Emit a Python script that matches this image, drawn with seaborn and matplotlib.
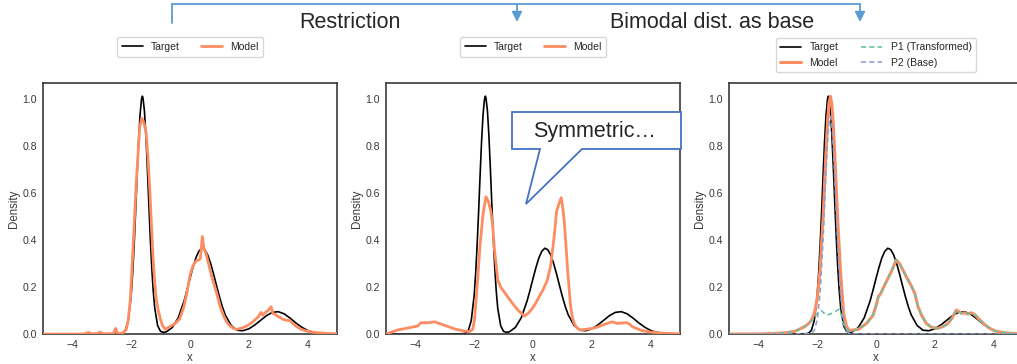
import numpy as np
import pandas as pd
import matplotlib
matplotlib.use("Agg")
import matplotlib.pyplot as plt
from matplotlib.patches import Polygon, FancyArrowPatch
from matplotlib.lines import Line2D
import seaborn as sns

# ---------------- data ----------------
target_x = [-5.0, -3.0, -2.4, -2.3, -2.2, -2.1, -2.0, -1.95, -1.9, -1.85, -1.8, -1.75, -1.7, -1.65,
            -1.62, -1.6, -1.55, -1.5, -1.45, -1.4, -1.35, -1.3, -1.25, -1.2, -1.1, -1.0, -0.9, -0.8,
            -0.6, -0.4, -0.2, -0.1, 0.0, 0.1, 0.2, 0.3, 0.4, 0.5, 0.6, 0.7, 0.8, 0.9, 1.0, 1.1, 1.2,
            1.4, 1.6, 1.8, 2.0, 2.2, 2.4, 2.6, 2.8, 3.0, 3.2, 3.4, 3.6, 3.8, 4.0, 4.2, 4.4, 4.6, 5.0]
target_y = [0.0, 0.0, 0.001, 0.003, 0.015, 0.057, 0.166, 0.259, 0.379, 0.52, 0.674, 0.818, 0.932, 0.999,
            1.012, 1.005, 0.95, 0.844, 0.704, 0.552, 0.406, 0.281, 0.182, 0.111, 0.035, 0.011, 0.007, 0.0095,
            0.028, 0.069, 0.141, 0.187, 0.236, 0.283, 0.324, 0.352, 0.365, 0.359, 0.337, 0.301, 0.256, 0.207,
            0.159, 0.116, 0.081,
            0.036, 0.016, 0.014, 0.022, 0.038, 0.058, 0.078, 0.092, 0.095, 0.086, 0.068, 0.047, 0.029, 0.015,
            0.007, 0.003, 0.001, 0.0]

# Panel 1: model (Restriction)
model1_x = [-5.0, -3.6, -3.46, -3.35, -3.15, -3.06, -2.95, -2.6, -2.53, -2.47, -2.3, -2.17, -2.1, -2.03,
            -1.94, -1.83, -1.71, -1.64, -1.57, -1.49, -1.43, -1.37, -1.31, -1.26, -1.2, -1.15, -1.08,
            -1.0, -0.93, -0.84, -0.7, -0.5, -0.35, -0.2, -0.1, 0.0, 0.1, 0.2, 0.3, 0.35, 0.42, 0.48,
            0.55, 0.65, 0.74, 0.82, 0.91, 1.02, 1.13, 1.25, 1.36, 1.48, 1.59, 1.75, 1.93, 2.1, 2.21,
            2.33, 2.41, 2.47, 2.55, 2.65, 2.76, 2.82, 2.9, 3.0, 3.1, 3.17, 3.3, 3.4, 3.5, 3.63, 3.78,
            3.92, 4.1, 4.3, 4.6, 5.0]
model1_y = [0.0, 0.0, 0.007, 0.001, 0.002, 0.008, 0.001, 0.002, 0.024, 0.003, 0.003, 0.018, 0.06, 0.146,
            0.36, 0.64, 0.88, 0.918, 0.90, 0.855, 0.75, 0.62, 0.46, 0.33, 0.22, 0.15, 0.10,
            0.06, 0.035, 0.02, 0.03, 0.045, 0.065, 0.12, 0.18, 0.25, 0.29, 0.31, 0.315, 0.32, 0.415, 0.36,
            0.34, 0.29, 0.244, 0.21, 0.173, 0.12, 0.081, 0.05, 0.034, 0.024, 0.02, 0.025, 0.034, 0.048, 0.06,
            0.075, 0.092, 0.08, 0.09, 0.10, 0.116, 0.088, 0.083, 0.074, 0.068, 0.062, 0.058, 0.057, 0.045,
            0.031, 0.02, 0.014, 0.009, 0.006, 0.003, 0.001]

# Panel 2: model (Symmetric)
model2_x = [-5.0, -4.6, -4.2, -3.92, -3.81, -3.53, -3.35, -3.19, -2.9, -2.62, -2.35, -2.16, -2.05, -1.99,
            -1.9, -1.8, -1.7, -1.6, -1.52, -1.43, -1.37, -1.32, -1.25, -1.2, -1.1, -0.9, -0.71, -0.5,
            -0.37, -0.29, -0.15, -0.02, 0.1, 0.21, 0.35, 0.49, 0.6, 0.72, 0.8, 0.87, 0.96, 1.01, 1.06,
            1.12, 1.17, 1.23, 1.28, 1.34, 1.4, 1.5, 1.62, 1.8, 2.02, 2.2, 2.36, 2.55, 2.7, 2.86, 3.05,
            3.21, 3.3, 3.38, 3.55, 3.72, 3.95, 4.17, 4.5, 5.0]
model2_y = [0.0, 0.017, 0.027, 0.034, 0.048, 0.048, 0.052, 0.045, 0.032, 0.02, 0.013, 0.01, 0.02, 0.06,
            0.2, 0.38, 0.51, 0.584, 0.565, 0.52, 0.46, 0.37, 0.29, 0.23, 0.2, 0.165, 0.132, 0.10,
            0.085, 0.076, 0.09, 0.109, 0.133, 0.159, 0.19, 0.23, 0.29, 0.414, 0.52, 0.55, 0.58, 0.54, 0.485,
            0.38, 0.286, 0.19, 0.116, 0.07, 0.045, 0.025, 0.017, 0.02, 0.024, 0.03, 0.038, 0.046, 0.052,
            0.045, 0.047, 0.048, 0.04, 0.031, 0.022, 0.014, 0.009, 0.006, 0.003, 0.001]

# Panel 3: model + its two parts (Bimodal dist. as base)
model3_x = [-5.0, -4.0, -3.5, -3.0, -2.75, -2.58, -2.45, -2.3, -2.2, -2.1, -2.0, -1.9, -1.8, -1.7,
            -1.65, -1.6, -1.55, -1.5, -1.45, -1.4, -1.3, -1.2, -1.1, -1.0, -0.9, -0.6, -0.32, -0.1,
            0.0, 0.08, 0.15, 0.3, 0.5, 0.69, 0.8, 1.03, 1.2, 1.32, 1.43, 1.55, 1.71, 1.9, 2.11, 2.3,
            2.45, 2.6, 2.73, 2.82, 2.9, 3.0, 3.13, 3.22, 3.3, 3.42, 3.53, 3.7, 3.87, 4.05, 4.32, 4.6, 5.0]
model3_y = [0.0, 0.0, 0.002, 0.006, 0.012, 0.022, 0.03, 0.043, 0.058, 0.087, 0.148, 0.276, 0.494, 0.773,
            0.897, 0.982, 1.011, 0.976, 0.886, 0.759, 0.478, 0.252, 0.086, 0.031, 0.015, 0.02, 0.045, 0.08,
            0.12, 0.159, 0.17, 0.21, 0.26, 0.315, 0.30, 0.244, 0.205, 0.173, 0.116, 0.08, 0.045, 0.028, 0.024, 0.033,
            0.045, 0.07, 0.102, 0.095, 0.088, 0.09, 0.085, 0.09, 0.088, 0.075, 0.06, 0.04, 0.024, 0.013, 0.006, 0.003, 0.001]

p1_x = [-5.0, -4.0, -3.5, -3.0, -2.75, -2.58, -2.45, -2.3, -2.2, -2.1, -2.0, -1.87, -1.78, -1.68, -1.55,
        -1.4, -1.25, -1.18, -1.11, -1.0, -0.85, -0.6, -0.32, -0.1, 0.0, 0.08, 0.15, 0.3, 0.5, 0.69, 0.8,
        1.03, 1.2, 1.32, 1.43, 1.55, 1.71, 1.9, 2.11, 2.3, 2.45, 2.6, 2.73, 2.82, 2.9, 3.0, 3.13, 3.22,
        3.3, 3.42, 3.53, 3.7, 3.87, 4.05, 4.32, 4.6, 5.0]
p1_y = [0.0, 0.0, 0.002, 0.006, 0.012, 0.022, 0.03, 0.042, 0.055, 0.072, 0.088, 0.100, 0.09, 0.08, 0.085,
        0.095, 0.105, 0.08, 0.035, 0.018, 0.012, 0.02, 0.045, 0.08, 0.12, 0.159, 0.17, 0.21, 0.26, 0.315, 0.30,
        0.244, 0.205, 0.173, 0.116, 0.08, 0.045, 0.028, 0.024, 0.033, 0.045, 0.07, 0.102, 0.095, 0.088, 0.09,
        0.085, 0.09, 0.088, 0.075, 0.06, 0.04, 0.024, 0.013, 0.006, 0.003, 0.001]

p2_x = [-5.0, -2.4, -2.2, -2.1, -2.0, -1.9, -1.8, -1.7, -1.65, -1.6, -1.55, -1.5, -1.45, -1.4, -1.3,
        -1.2, -1.1, -1.0, -0.9, -0.8, 5.0]
p2_y = [0.0, 0.0, 0.003, 0.015, 0.06, 0.178, 0.403, 0.692, 0.817, 0.90, 0.926, 0.888, 0.795, 0.664, 0.376,
        0.162, 0.053, 0.013, 0.002, 0.0, 0.0]

x_ticks = [-4, -2, 0, 2, 4]
y_ticks = [0.0, 0.2, 0.4, 0.6, 0.8, 1.0]
titles = ["Restriction", "Bimodal dist. as base"]
callout_text = "Symmetric…"

# ---------------- style ----------------
sns.set_style("white")
plt.rcParams["font.family"] = ["Liberation Sans", "DejaVu Sans"]
plt.rcParams["axes.edgecolor"] = "#3a3a3a"
plt.rcParams["axes.linewidth"] = 1.2

C_TARGET = "black"
C_MODEL = "#fc8d62"
C_P1 = "#66c2a5"
C_P2 = "#8da0cb"
BLUE = "#5b9bd5"
BLUE2 = "#4472c4"
TXT = "#262626"

W, H = 1017, 364
fig = plt.figure(figsize=(W / 100, H / 100), dpi=100)


def px_rect(left, top, right, bottom):
    return [left / W, 1 - bottom / H, (right - left) / W, (bottom - top) / H]


axes = [fig.add_axes(px_rect(43, 83, 337, 334)),
        fig.add_axes(px_rect(386, 83, 680, 334)),
        fig.add_axes(px_rect(729, 83, 1023, 334))]


def draw(ax, xs, ys, color, lw, label, ls="-", z=2):
    df = pd.DataFrame({"x": xs, "y": ys})
    sns.lineplot(data=df, x="x", y="y", ax=ax, color=color, lw=lw, label=label,
                 linestyle=ls, estimator=None, sort=False, zorder=z)


for i, ax in enumerate(axes):
    draw(ax, target_x, target_y, C_TARGET, 1.2, "Target", z=2)
    if i == 0:
        draw(ax, model1_x, model1_y, C_MODEL, 2.0, "Model", z=3)
    elif i == 1:
        draw(ax, model2_x, model2_y, C_MODEL, 2.0, "Model", z=3)
    else:
        draw(ax, model3_x, model3_y, C_MODEL, 2.2, "Model", z=3)
        draw(ax, p1_x, p1_y, C_P1, 1.2, "P1 (Transformed)", ls=(0, (3, 2)), z=4)
        draw(ax, p2_x, p2_y, C_P2, 1.2, "P2 (Base)", ls=(0, (3, 2)), z=4)

    ax.set_xlim(-5, 5)
    ax.set_ylim(0, 1.068)
    ax.set_xticks(x_ticks)
    ax.set_yticks(y_ticks)
    ax.set_xticklabels([f"{t:d}".replace("-", "\u2212") for t in x_ticks])
    ax.set_yticklabels([f"{t:.1f}" for t in y_ticks])
    ax.tick_params(axis="both", length=0, pad=4.5, labelsize=7.6, colors="#3a3a3a")
    ax.set_xlabel("x", fontsize=8.3, color="#3a3a3a", labelpad=1)
    ax.set_ylabel("Density", fontsize=8.3, color="#3a3a3a", labelpad=1.5)
    for s in ax.spines.values():
        s.set_color("#3a3a3a")
        s.set_linewidth(1.2)

    if i < 2:
        ax.legend(loc="lower center", bbox_to_anchor=(0.5, 1.084), ncol=2, fontsize=7.5,
                  frameon=True, edgecolor="#cccccc", columnspacing=2.0, handlelength=2.0,
                  borderpad=0.45)
    else:
        ax.legend(loc="lower center", bbox_to_anchor=(0.5, 1.022), ncol=2, fontsize=7.5,
                  frameon=True, edgecolor="#cccccc", columnspacing=2.2, handlelength=2.0,
                  borderpad=0.45, labelspacing=0.5)


def fp(x, y):
    return (x / W, 1 - y / H)


# ---------------- top bracket with arrows ----------------
fig.add_artist(Line2D([172 / W, 860 / W], [1 - 4 / H, 1 - 4 / H], color=BLUE, lw=1.3,
                      transform=fig.transFigure))
fig.add_artist(Line2D([172 / W, 172 / W], [1 - 4 / H, 1 - 23 / H], color=BLUE, lw=1.3,
                      transform=fig.transFigure))
for ax_x in (517, 860):
    arr = FancyArrowPatch(fp(ax_x, 4), fp(ax_x, 22), transform=fig.transFigure,
                          arrowstyle="-|>,head_length=6,head_width=3", color=BLUE, lw=1.3,
                          shrinkA=0, shrinkB=0, mutation_scale=1)
    fig.add_artist(arr)

fig.text(350 / W, 1 - 23 / H, titles[0], ha="center", va="center", fontsize=15.5, color=TXT)
fig.text(712 / W, 1 - 23 / H, titles[1], ha="center", va="center", fontsize=15.5, color=TXT)

# ---------------- callout in panel 2 ----------------
pts = [(512, 112), (681, 112), (681, 149), (582, 149), (526, 204), (540, 149), (512, 149)]
poly = Polygon([fp(x, y) for x, y in pts], closed=True, transform=fig.transFigure,
               facecolor="white", edgecolor=BLUE2, lw=1.3, zorder=10)
fig.add_artist(poly)
fig.text(595 / W, 1 - 131 / H, callout_text, ha="center", va="center", fontsize=15.5,
         color=TXT, zorder=11)

fig.savefig("out.png", dpi=100)
